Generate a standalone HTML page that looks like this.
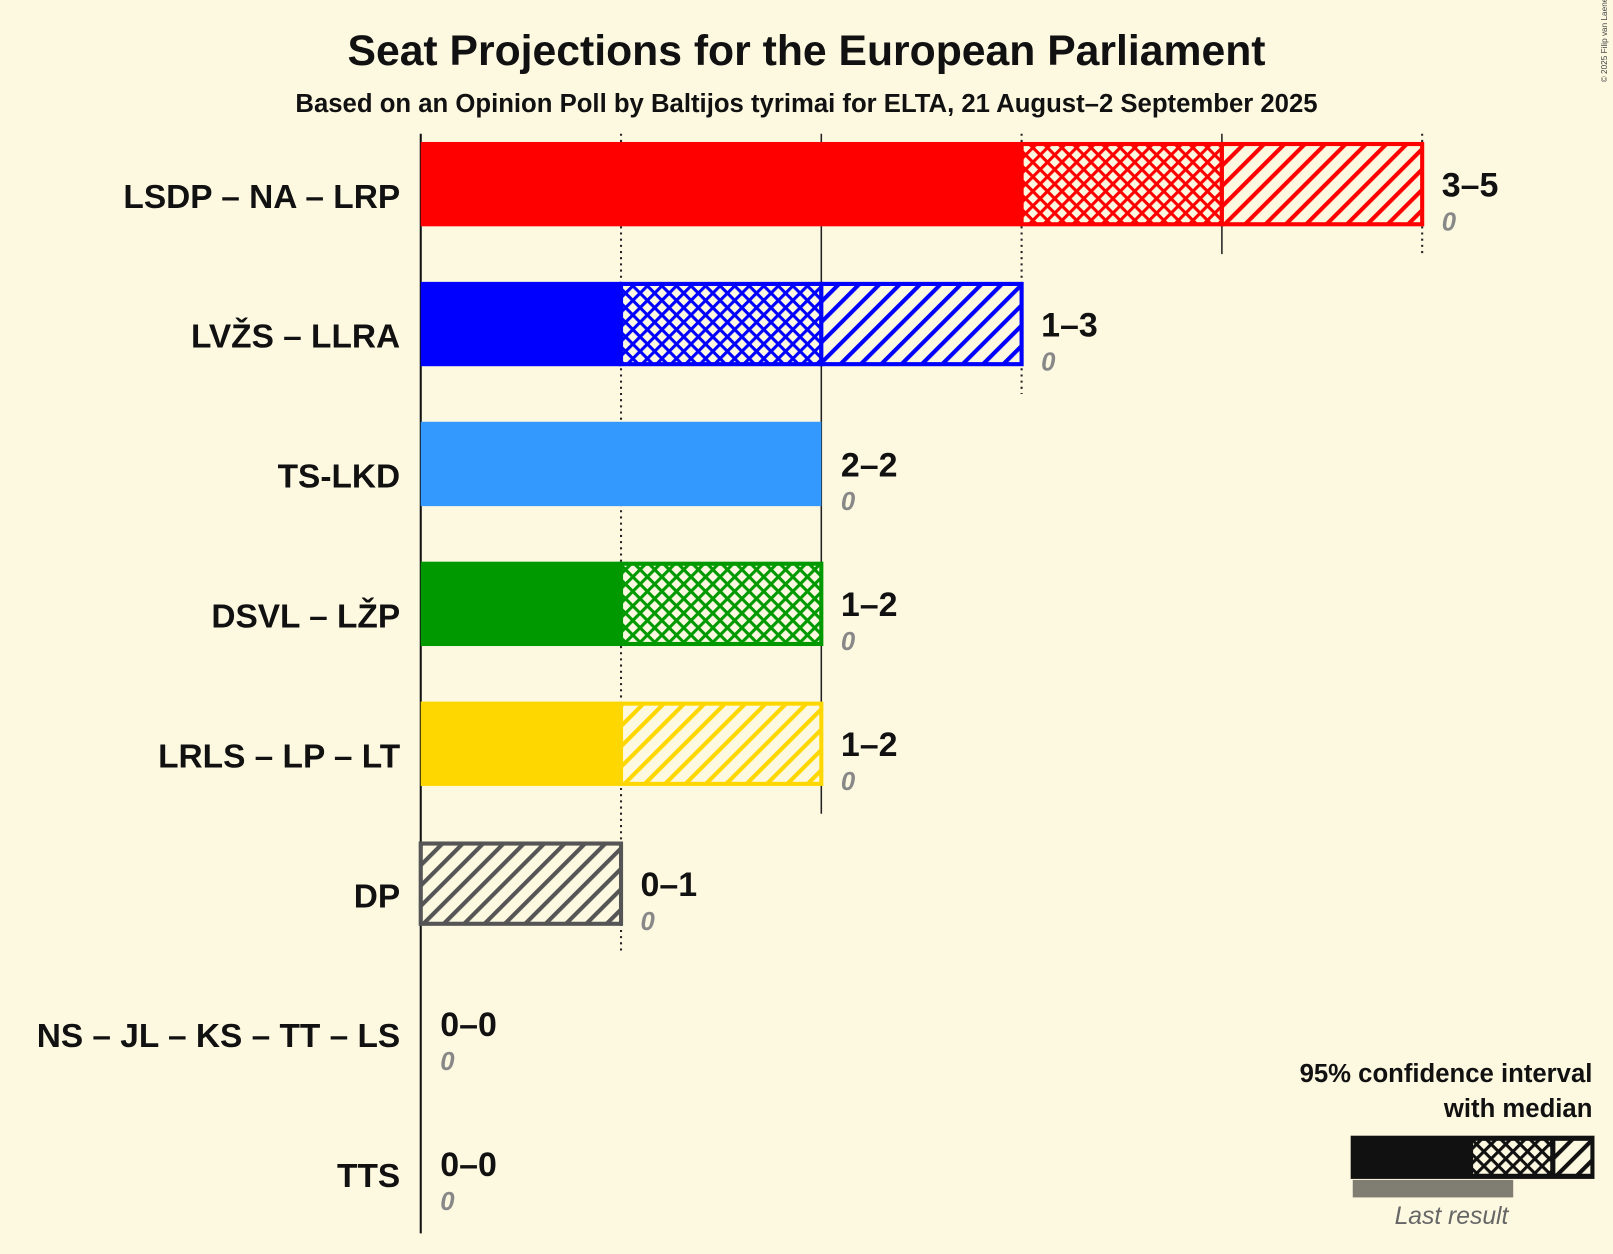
<!DOCTYPE html>
<html><head><meta charset="utf-8"><style>
body{margin:0;background:#fdf9e1;overflow:hidden;}
svg{display:block;font-family:"Liberation Sans",sans-serif;}
</style></head><body>
<svg id="chart" width="1613" height="1254" viewBox="0 0 1568 1219" preserveAspectRatio="none" xmlns="http://www.w3.org/2000/svg">
<rect width="1568" height="1219" fill="#fdf9e1"/>
<defs id="defs"></defs>
<text x="784" y="63" text-anchor="middle" font-size="41.5" font-weight="bold" fill="#111">Seat Projections for the European Parliament</text>
<text x="784" y="109" text-anchor="middle" font-size="25" font-weight="bold" fill="#111">Based on an Opinion Poll by Baltijos tyrimai for ELTA, 21 August–2 September 2025</text>
<text x="1562" y="80" font-size="8" fill="#444" transform="rotate(-90 1562 80)">© 2025 Filip van Laenen</text>
<g id="grid"></g>
<g id="bars"></g>
<g id="legend">
<text x="1548" y="1052" text-anchor="end" font-size="25" font-weight="bold" fill="#111">95% confidence interval</text>
<text x="1548" y="1086" text-anchor="end" font-size="25" font-weight="bold" fill="#111">with median</text>
<rect x="1313" y="1104" width="237" height="42" fill="#111"/>
<rect x="1432" y="1109" width="75" height="32" fill="url(#cross-111)"/>
<rect x="1512" y="1109" width="34" height="32" fill="url(#diag-111)"/>
<rect x="1315" y="1147" width="156" height="17" fill="#807d72"/>
<text x="1411" y="1190" text-anchor="middle" font-size="24" font-style="italic" fill="#666">Last result</text>
</g>
</svg>
<script>
const parties = ["LSDP – NA – LRP","LVŽS – LLRA","TS-LKD","DSVL – LŽP","LRLS – LP – LT","DP","NS – JL – KS – TT – LS","TTS"];
const lows = [3,1,2,1,1,0,0,0];
const medians = [4,2,2,2,1,0,0,0];
const highs = [5,3,2,2,2,1,0,0];
const lastResults = [0,0,0,0,0,0,0,0];
const colors = ["#ff0000","#0000ff","#3399ff","#009900","#ffd700","#555555","#555555","#555555"];

const NS="http://www.w3.org/2000/svg";
const x0=409, perSeat=194.7, rowTop=179, rowStep=136, barH=82;
const xs=v=>x0+v*perSeat;
const ys=i=>rowTop+i*rowStep;
function mk(tag,attrs,parent){const e=document.createElementNS(NS,tag);for(const k in attrs)e.setAttribute(k,attrs[k]);parent.appendChild(e);return e;}
const defs=document.getElementById('defs');
function patterns(c){
  const id=c.replace('#','');
  let p=mk('pattern',{id:'diag-'+id,patternUnits:'userSpaceOnUse',width:14,height:14,patternTransform:'rotate(45)'},defs);
  mk('rect',{width:14,height:14,fill:'#fdf9e1'},p);
  mk('rect',{x:0,y:0,width:4,height:14,fill:c},p);
  p=mk('pattern',{id:'cross-'+id,patternUnits:'userSpaceOnUse',width:10,height:10,patternTransform:'rotate(45)'},defs);
  mk('rect',{width:10,height:10,fill:'#fdf9e1'},p);
  mk('rect',{x:0,y:0,width:3,height:10,fill:c},p);
  mk('rect',{x:0,y:0,width:10,height:3,fill:c},p);
}
patterns('#111');
colors.forEach(c=>{ if(!document.getElementById('diag-'+c.replace('#','')))patterns(c); });

const grid=document.getElementById('grid');
const maxSeat=Math.max(...highs);
for(let s=1;s<=maxSeat;s++){
  let last=-1; highs.forEach((h,i)=>{if(h>=s)last=i;});
  const ln=mk('line',{x1:xs(s),x2:xs(s),y1:130,y2:ys(last)+68,stroke:'#222','stroke-width':s%2?2:1.5},grid);
  if(s%2)ln.setAttribute('stroke-dasharray','2,4');
  
  
}
const axis=mk('line',{x1:x0,x2:x0,y1:130,y2:ys(parties.length-1)+68,stroke:'#111','stroke-width':2},grid);



const bars=document.getElementById('bars');
parties.forEach((p,i)=>{
  const g=mk('g',{},bars);
  
  
  const c=colors[i], id=c.replace('#',''), yt=ys(i)-barH/2;
  const lab=mk('text',{x:389,y:ys(i)+23,'text-anchor':'end','font-size':32.5,'font-weight':'bold',fill:'#111'},g);
  lab.textContent=p;
  
  
  if(highs[i]>0){
    if(lows[i]>0){const r=mk('rect',{x:xs(0),y:yt,width:xs(lows[i])-xs(0),height:barH,fill:c},g);
      }
    if(medians[i]>lows[i]){const r=mk('rect',{x:xs(lows[i]),y:yt+2,width:xs(medians[i])-xs(lows[i]),height:barH-4,fill:'url(#cross-'+id+')',stroke:c,'stroke-width':4},g);
      }
    if(highs[i]>medians[i]){const r=mk('rect',{x:xs(medians[i]),y:yt+2,width:xs(highs[i])-xs(medians[i]),height:barH-4,fill:'url(#diag-'+id+')',stroke:c,'stroke-width':4},g);
      }
  }
  const tx=xs(highs[i])+19;
  const v=mk('text',{x:tx,y:ys(i)+12,'font-size':33,'font-weight':'bold',fill:'#111'},g);
  v.textContent=lows[i]+'–'+highs[i];
  
  
  const lr=mk('text',{x:tx,y:ys(i)+45,'font-size':25,'font-weight':'bold','font-style':'italic',fill:'#888'},g);
  lr.textContent=lastResults[i];
  
  
});
</script>
</body></html>
